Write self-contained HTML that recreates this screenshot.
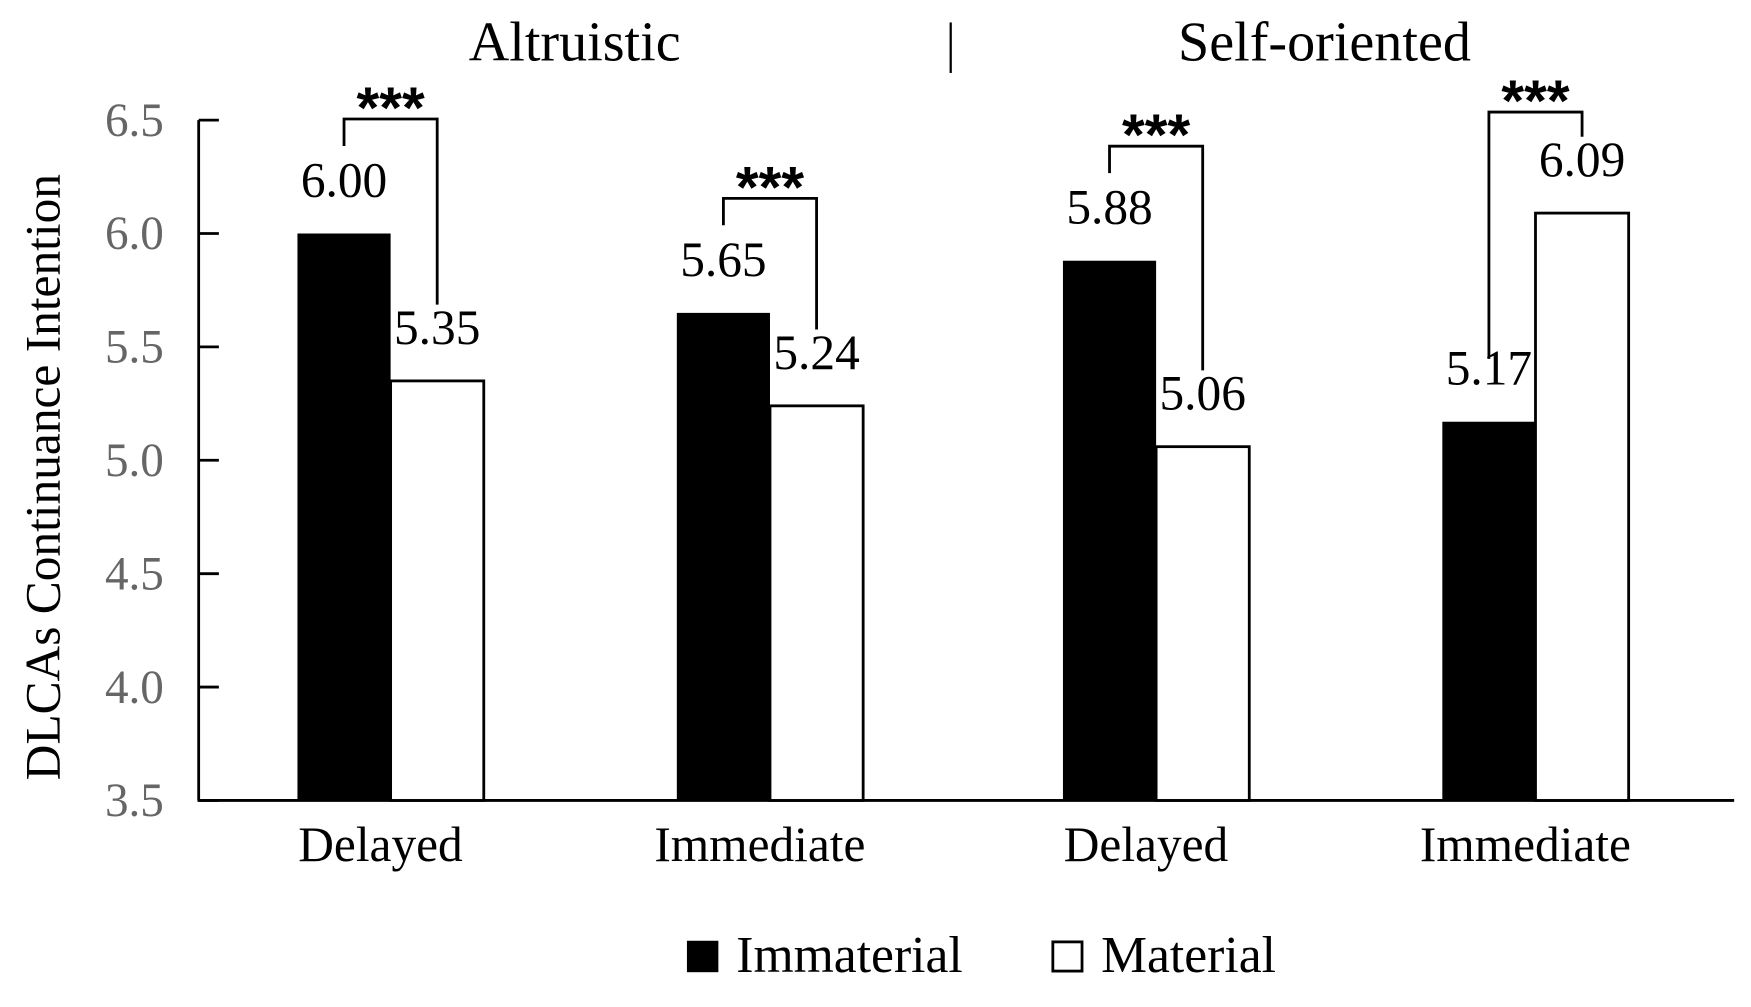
<!DOCTYPE html>
<html><head><meta charset="utf-8"><style>
html,body{margin:0;padding:0;background:#fff;}
svg{display:block;font-family:"Liberation Serif",serif;}
</style></head><body>
<svg id="chart" width="1751" height="1007" viewBox="0 0 1560 897" preserveAspectRatio="none" xmlns="http://www.w3.org/2000/svg">
<text x="512" y="54" font-size="50" text-anchor="middle">Altruistic</text>
<line x1="847" y1="20" x2="847" y2="65" stroke="#000" stroke-width="2"/>
<text x="1180" y="54" font-size="50" text-anchor="middle">Self-oriented</text>
<text transform="translate(53,425) rotate(-90)" font-size="44" text-anchor="middle">DLCAs Continuance Intention</text>
<g id="axes"></g>
<g id="bars"></g>
<g>
<rect x="612" y="838" width="28" height="28" fill="#000"/>
<text x="656" y="866" font-size="46">Immaterial</text>
<rect x="938" y="839" width="26" height="26" fill="#fff" stroke="#000" stroke-width="2.5"/>
<text x="981" y="866" font-size="46">Material</text>
</g>
</svg>
<script>
const categories = ["Delayed","Immediate","Delayed","Immediate"];
const immaterial = [6.00,5.65,5.88,5.17];
const material = [5.35,5.24,5.06,6.09];
const yTicks = ["3.5","4.0","4.5","5.0","5.5","6.0","6.5"];
const NS="http://www.w3.org/2000/svg";
const yMin=3.5,yMax=6.5,y0=713,y1=107;
function y(v){return y0-(v-yMin)/(yMax-yMin)*(y0-y1);}
const groupCenters=[348,686,1030,1368];
const bw=83;
function mk(tag,attrs,parent){const e=document.createElementNS(NS,tag);for(const k in attrs)e.setAttribute(k,attrs[k]);parent.appendChild(e);return e;}
const axes=document.getElementById('axes'),bars=document.getElementById('bars');
let el=mk('line',{x1:177,y1:y1,x2:177,y2:y0,stroke:'#000','stroke-width':2.5},axes);


el=mk('line',{x1:176,y1:y0,x2:1545,y2:y0,stroke:'#000','stroke-width':2.5},axes);


yTicks.forEach(t=>{const v=parseFloat(t);
 let l=mk('line',{x1:177,y1:y(v),x2:195,y2:y(v),stroke:'#000','stroke-width':2.5},axes);
 
 
 let tx=mk('text',{x:146,y:y(v)+14,'font-size':42,fill:'#666','text-anchor':'end'},axes);
 tx.textContent=t;
 
 
});
categories.forEach((c,i)=>{
 const cx=groupCenters[i];
 const yi=y(immaterial[i]),ym=y(material[i]);
 let b=mk('rect',{x:cx-bw,y:yi,width:bw,height:y0-yi,fill:'#000'},bars);
 
 
 b=mk('rect',{x:cx,y:ym,width:bw,height:y0-ym,fill:'#fff',stroke:'#000','stroke-width':2.5},bars);
 
 
 let t=mk('text',{x:cx-bw/2,y:yi-33,'font-size':44,'text-anchor':'middle'},bars);
 t.textContent=immaterial[i].toFixed(2);
 
 
 t=mk('text',{x:cx+bw/2,y:ym-33,'font-size':44,'text-anchor':'middle'},bars);
 t.textContent=material[i].toFixed(2);
 
 
 const top=Math.min(yi,ym)-(ym<yi?90:102);
 const lx=cx-bw/2,rx=cx+bw/2;
 const lEnd=yi<=ym?top+24:yi-56,rEnd=ym<yi?top+22:ym-68;
 let p=mk('path',{d:`M${lx},${lEnd} V${top} H${rx} V${rEnd}`,fill:'none',stroke:'#000','stroke-width':2.5},bars);
 
 
 t=mk('text',{x:cx,y:top+8,'font-size':52,'font-weight':'bold','text-anchor':'middle','font-family':'Liberation Sans, sans-serif'},bars);
 t.textContent='***';
 
 
 t=mk('text',{x:cx-9,y:767,'font-size':44,'text-anchor':'middle'},bars);
 t.textContent=c;
 
 
});
</script>
</body></html>
